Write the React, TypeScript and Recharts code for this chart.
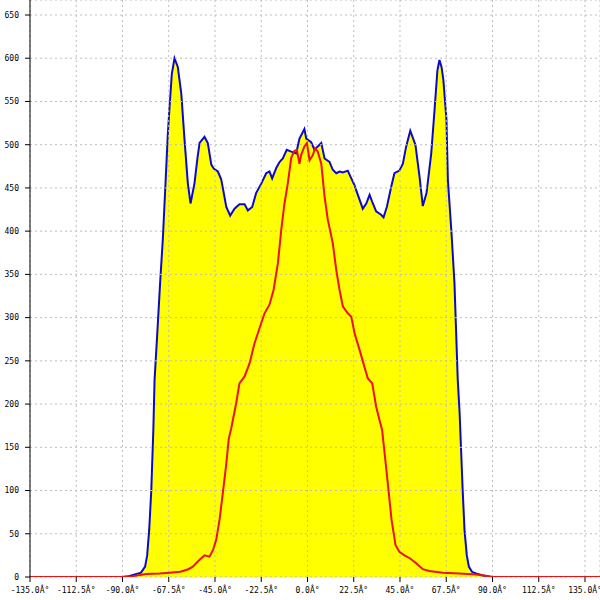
import { ComposedChart, Area, Line, XAxis, YAxis, CartesianGrid } from "recharts";

// angle (deg) / count pairs
const outerAngles = [
	-135, -90, -87, -84, -81, -79, -78, -77, -76, -75, -74.4, -73, -71.7, -70.4, -69, -68, -67.1, -66,
	-64.7, -63.1, -61.4, -59.8, -58.2, -56.9, -55, -53.5, -52.5, -50.1, -48.5, -46.8, -45.5, -43.6,
	-42, -41.2, -39.5, -37.6, -35.5, -33.1, -30.6, -29, -26.9, -25, -22.5, -20.1, -18.5, -17.2, -15.2,
	-13.6, -12, -10.1, -7.9, -5.5, -3.9, -1.5, -0.6, 1.8, 3.4, 5, 6.7, 8.3, 10.7, 12.3, 14, 15.6,
	17.2, 19.6, 21.3, 22.9, 24.5, 26.9, 28.6, 30.2, 31.8, 33.4, 35.8, 37, 38.6, 40.7, 42.3, 44.7,
	46.4, 48, 50, 52.5, 54.5, 56.1, 57.9, 60.2, 61.8, 63.2, 64.2, 65.2, 66.1, 67.6, 68.3, 70, 71.5,
	73.1, 74, 75.5, 76.4, 77.5, 78.5, 80, 82, 85, 88.5, 142.3,
];
const outerValues = [
	0, 0, 1, 3, 5, 12, 25, 55, 100, 170, 228, 285, 340, 390, 459, 510, 544, 582,
	600, 590, 559, 505, 455, 432, 455, 485, 502, 509, 502, 477, 472, 469,
	460, 450, 428, 418, 426, 431, 431, 424, 428, 444, 455, 467, 469, 461, 473,
	480, 484, 494, 492, 490, 507, 518, 507, 503, 494, 498, 502, 484, 480, 471, 467, 469,
	468, 470, 461, 453, 442, 426, 432, 442, 432, 423, 419, 416, 428, 451, 467, 470,
	478, 498, 516, 500, 463, 429, 444, 490, 540, 586, 598, 590, 575, 529, 459, 400, 340,
	228, 190, 100, 54, 25, 12, 6, 4, 2, 0, 0,
];

const innerAngles = [
	-135, -90, -85, -78.5, -72, -67.1, -62, -60.6, -58, -55.8, -52.5, -50.1, -47.7, -46, -44.4,
	-42.8, -41.2, -39.5, -38.3, -37.1, -34.7, -33.1, -30.6, -28.2, -25.8, -23.3, -20.9, -18.5,
	-16.5, -14.4, -12.8, -11.2, -9.6, -7.9, -6.3, -5.2, -3.9, -3.1, -1.5, -0.3, 1, 2.6, 3.7, 5,
	6.7, 8.3, 9.9, 12.3, 14, 15.6, 17.2, 19.6, 21.3, 22.9, 25.3, 27.7, 29.3, 31.5, 33.4, 35,
	36.3, 38.9, 40.9, 42.8, 44.7, 47.2, 49.6, 52.9, 56.1, 59.3, 65.8, 73.9, 82, 88.5, 90, 142.3,
];
const innerValues = [
	0, 0, 1, 3.5, 4, 5, 6, 7, 9, 12, 20, 25, 23.5, 31, 43,
	66, 97, 131, 160, 172, 201, 224, 232, 247, 270, 288, 305, 315,
	332, 363, 401, 432, 455, 485, 493, 494, 478, 488, 498, 502, 482, 488, 496, 492,
	478, 440, 413, 386, 355, 332, 313, 305, 301, 282, 263, 243, 230, 224, 197, 182,
	170, 112, 66, 37, 29, 25, 22, 16, 9, 7, 5, 4, 3, 1, 0, 0,
];

const xTicks = [-135, -112.5, -90, -67.5, -45, -22.5, 0, 22.5, 45, 67.5, 90, 112.5, 135];
const yTicks = [0, 50, 100, 150, 200, 250, 300, 350, 400, 450, 500, 550, 600, 650];

const outerData = outerAngles.map((a, i) => ({ a, v: outerValues[i] }));
const innerData = innerAngles.map((a, i) => ({ a, v: innerValues[i] }));

const tickFont = { fontFamily: "DejaVu Sans Mono", fontSize: 8, fill: "#000" };

export default function App() {
	return (
		<div style={{ position: "absolute", left: 0, top: 0, background: "#fff" }}>
			<ComposedChart
				width={600}
				height={600}
				margin={{ top: 0, right: 0, bottom: 0, left: 0 }}
			>
				<XAxis
					dataKey="a"
					type="number"
					domain={[-135, 142.3]}
					ticks={xTicks}
					interval={0}
					tickFormatter={(v: number) => `${v.toFixed(1)}Â°`}
					tick={tickFont}
					tickSize={5}
					tickMargin={5}
					tickLine={{ stroke: "#000" }}
					axisLine={false}
					height={23}
					allowDataOverflow
				/>
				<YAxis
					type="number"
					domain={[0, 667.35]}
					ticks={yTicks}
					interval={0}
					tick={tickFont}
					tickSize={5}
					tickMargin={6}
					tickLine={{ stroke: "#000" }}
					axisLine={{ stroke: "#000" }}
					width={30}
					allowDataOverflow
				/>
				<Area
					data={outerData}
					dataKey="v"
					type="linear"
					stroke="#0a0ac8"
					strokeWidth={2}
					fill="#ffff00"
					fillOpacity={1}
					dot={false}
					activeDot={false}
					isAnimationActive={false}
				/>
				<CartesianGrid
					strokeDasharray="2 3"
					stroke="#bdbdbd"
					horizontal
					vertical
					zIndex={150}
				/>
				<Line
					data={innerData}
					dataKey="v"
					type="linear"
					stroke="#ee1111"
					strokeWidth={2}
					dot={false}
					activeDot={false}
					isAnimationActive={false}
				/>
			</ComposedChart>
		</div>
	);
}
